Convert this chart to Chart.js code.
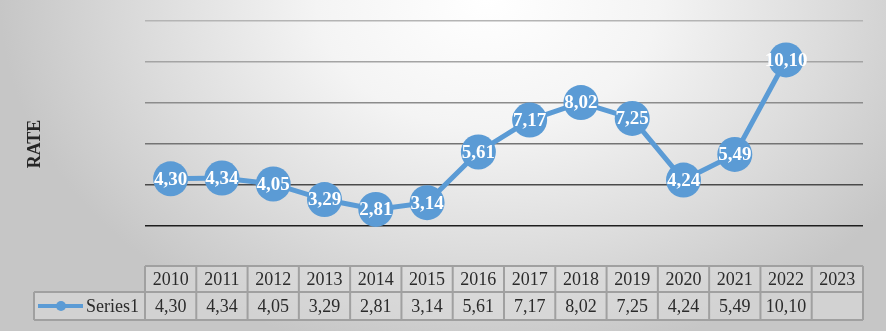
<!DOCTYPE html>
<html>
<head>
<meta charset="utf-8">
<script src="https://cdn.jsdelivr.net/npm/chart.js@4/dist/chart.umd.min.js"></script>
<style>
  html, body { margin: 0; padding: 0; }
  #wrap {
    width: 886px; height: 331px; position: relative;
    background: radial-gradient(ellipse 55% 110% at 55% 0%, #ffffff 0%, #f4f4f4 35%, #dcdcdc 70%, #c6c6c6 100%);
  }
  canvas { display: block; }
</style>
</head>
<body>
<div id="wrap"><canvas id="c" width="886" height="331"></canvas></div>
<script>
const years = ['2010','2011','2012','2013','2014','2015','2016','2017','2018','2019','2020','2021','2022','2023'];
const series1 = [4.30, 4.34, 4.05, 3.29, 2.81, 3.14, 5.61, 7.17, 8.02, 7.25, 4.24, 5.49, 10.10, null];
const seriesName = 'Series1';
const axisTitle = 'RATE';
const yMin = 0, yMax = 12, yStep = 2;

const BLUE = '#5b9bd5';
const fmt = v => v == null ? '' : v.toFixed(2).replace('.', ',');
const gridColors = {0: 'rgba(0,0,0,0)', 2: '#1e1e1e', 4: '#4a4a4a', 6: '#747474', 8: '#8c8c8c', 10: '#a4a4a4', 12: '#b4b4b4'};

const extras = {
  id: 'extras',
  afterDatasetsDraw(chart) {
    const {ctx} = chart;
    const meta = chart.getDatasetMeta(0);
    ctx.save();
    ctx.font = 'bold 19px "Liberation Serif", "Times New Roman", serif';
    ctx.fillStyle = '#ffffff';
    ctx.textAlign = 'center';
    ctx.textBaseline = 'middle';
    meta.data.forEach((pt, i) => {
      if (series1[i] == null) return;
      ctx.fillText(fmt(series1[i]), pt.x, pt.y + 1);
    });
    ctx.restore();
  },
  afterDraw(chart) {
    const {ctx, chartArea, scales} = chart;
    const x = scales.x;
    const colW = chartArea.width / years.length;
    const top = chartArea.bottom - 1;
    const rowH = 26;
    const r1 = top + rowH;
    const r2 = r1 + 28;
    const tableLeft = 34;
    ctx.save();
    ctx.fillStyle = 'rgba(225,225,225,0.45)';
    ctx.fillRect(chartArea.left, top, chartArea.width, rowH);
    ctx.fillRect(tableLeft, r1, chartArea.right - tableLeft, r2 - r1);
    ctx.strokeStyle = '#a0a0a0';
    ctx.lineWidth = 2;
    ctx.beginPath();
    ctx.moveTo(chartArea.left, top); ctx.lineTo(chartArea.right, top);
    ctx.moveTo(tableLeft, r1); ctx.lineTo(chartArea.right, r1);
    ctx.moveTo(tableLeft, r2); ctx.lineTo(chartArea.right, r2);
    ctx.moveTo(tableLeft, r1); ctx.lineTo(tableLeft, r2);
    for (let i = 0; i <= years.length; i++) {
      const bx = chartArea.left + i * colW;
      ctx.moveTo(bx, top); ctx.lineTo(bx, r2);
    }
    ctx.stroke();
    ctx.font = '18px "Liberation Serif", "Times New Roman", serif';
    ctx.fillStyle = '#2b2b2b';
    ctx.textAlign = 'center';
    ctx.textBaseline = 'middle';
    years.forEach((y, i) => {
      const cx = x.getPixelForValue(i);
      ctx.fillText(y, cx, (top + r1) / 2 + 1);
      ctx.fillText(fmt(series1[i]), cx, (r1 + r2) / 2 + 1);
    });
    const ly = (r1 + r2) / 2;
    ctx.strokeStyle = BLUE;
    ctx.lineWidth = 4;
    ctx.beginPath(); ctx.moveTo(38, ly); ctx.lineTo(83, ly); ctx.stroke();
    ctx.fillStyle = BLUE;
    ctx.beginPath(); ctx.arc(61, ly, 5, 0, Math.PI * 2); ctx.fill();
    ctx.fillStyle = '#2b2b2b';
    ctx.textAlign = 'left';
    ctx.fillText(seriesName, 86, ly + 1);
    ctx.save();
    ctx.translate(35, 144);
    ctx.rotate(-Math.PI / 2);
    ctx.font = 'bold 18px "Liberation Serif", "Times New Roman", serif';
    ctx.fillStyle = '#262626';
    ctx.textAlign = 'center';
    ctx.textBaseline = 'middle';
    ctx.fillText(axisTitle, 0, 0);
    ctx.restore();
    ctx.restore();
  }
};

new Chart(document.getElementById('c'), {
  type: 'line',
  data: {
    labels: years,
    datasets: [{
      label: seriesName,
      data: series1,
      borderColor: BLUE,
      backgroundColor: BLUE,
      borderWidth: 5,
      pointRadius: 17.5,
      pointHoverRadius: 17.5,
      pointBackgroundColor: BLUE,
      pointBorderColor: BLUE,
      pointBorderWidth: 0,
      tension: 0,
      spanGaps: false
    }]
  },
  options: {
    responsive: false,
    animation: false,
    events: [],
    layout: { padding: { left: 145, right: 23, top: 21, bottom: 64 } },
    plugins: { legend: { display: false }, tooltip: { enabled: false }, title: { display: false } },
    scales: {
      x: { type: 'category', offset: true, display: false },
      y: {
        min: yMin, max: yMax,
        ticks: { display: false, stepSize: yStep },
        border: { display: false },
        grid: {
          drawTicks: false,
          lineWidth: 1.5,
          color: c => gridColors[c.tick.value] || '#888'
        },
        title: { display: false }
      }
    }
  },
  plugins: [extras]
});
</script>
</body>
</html>
